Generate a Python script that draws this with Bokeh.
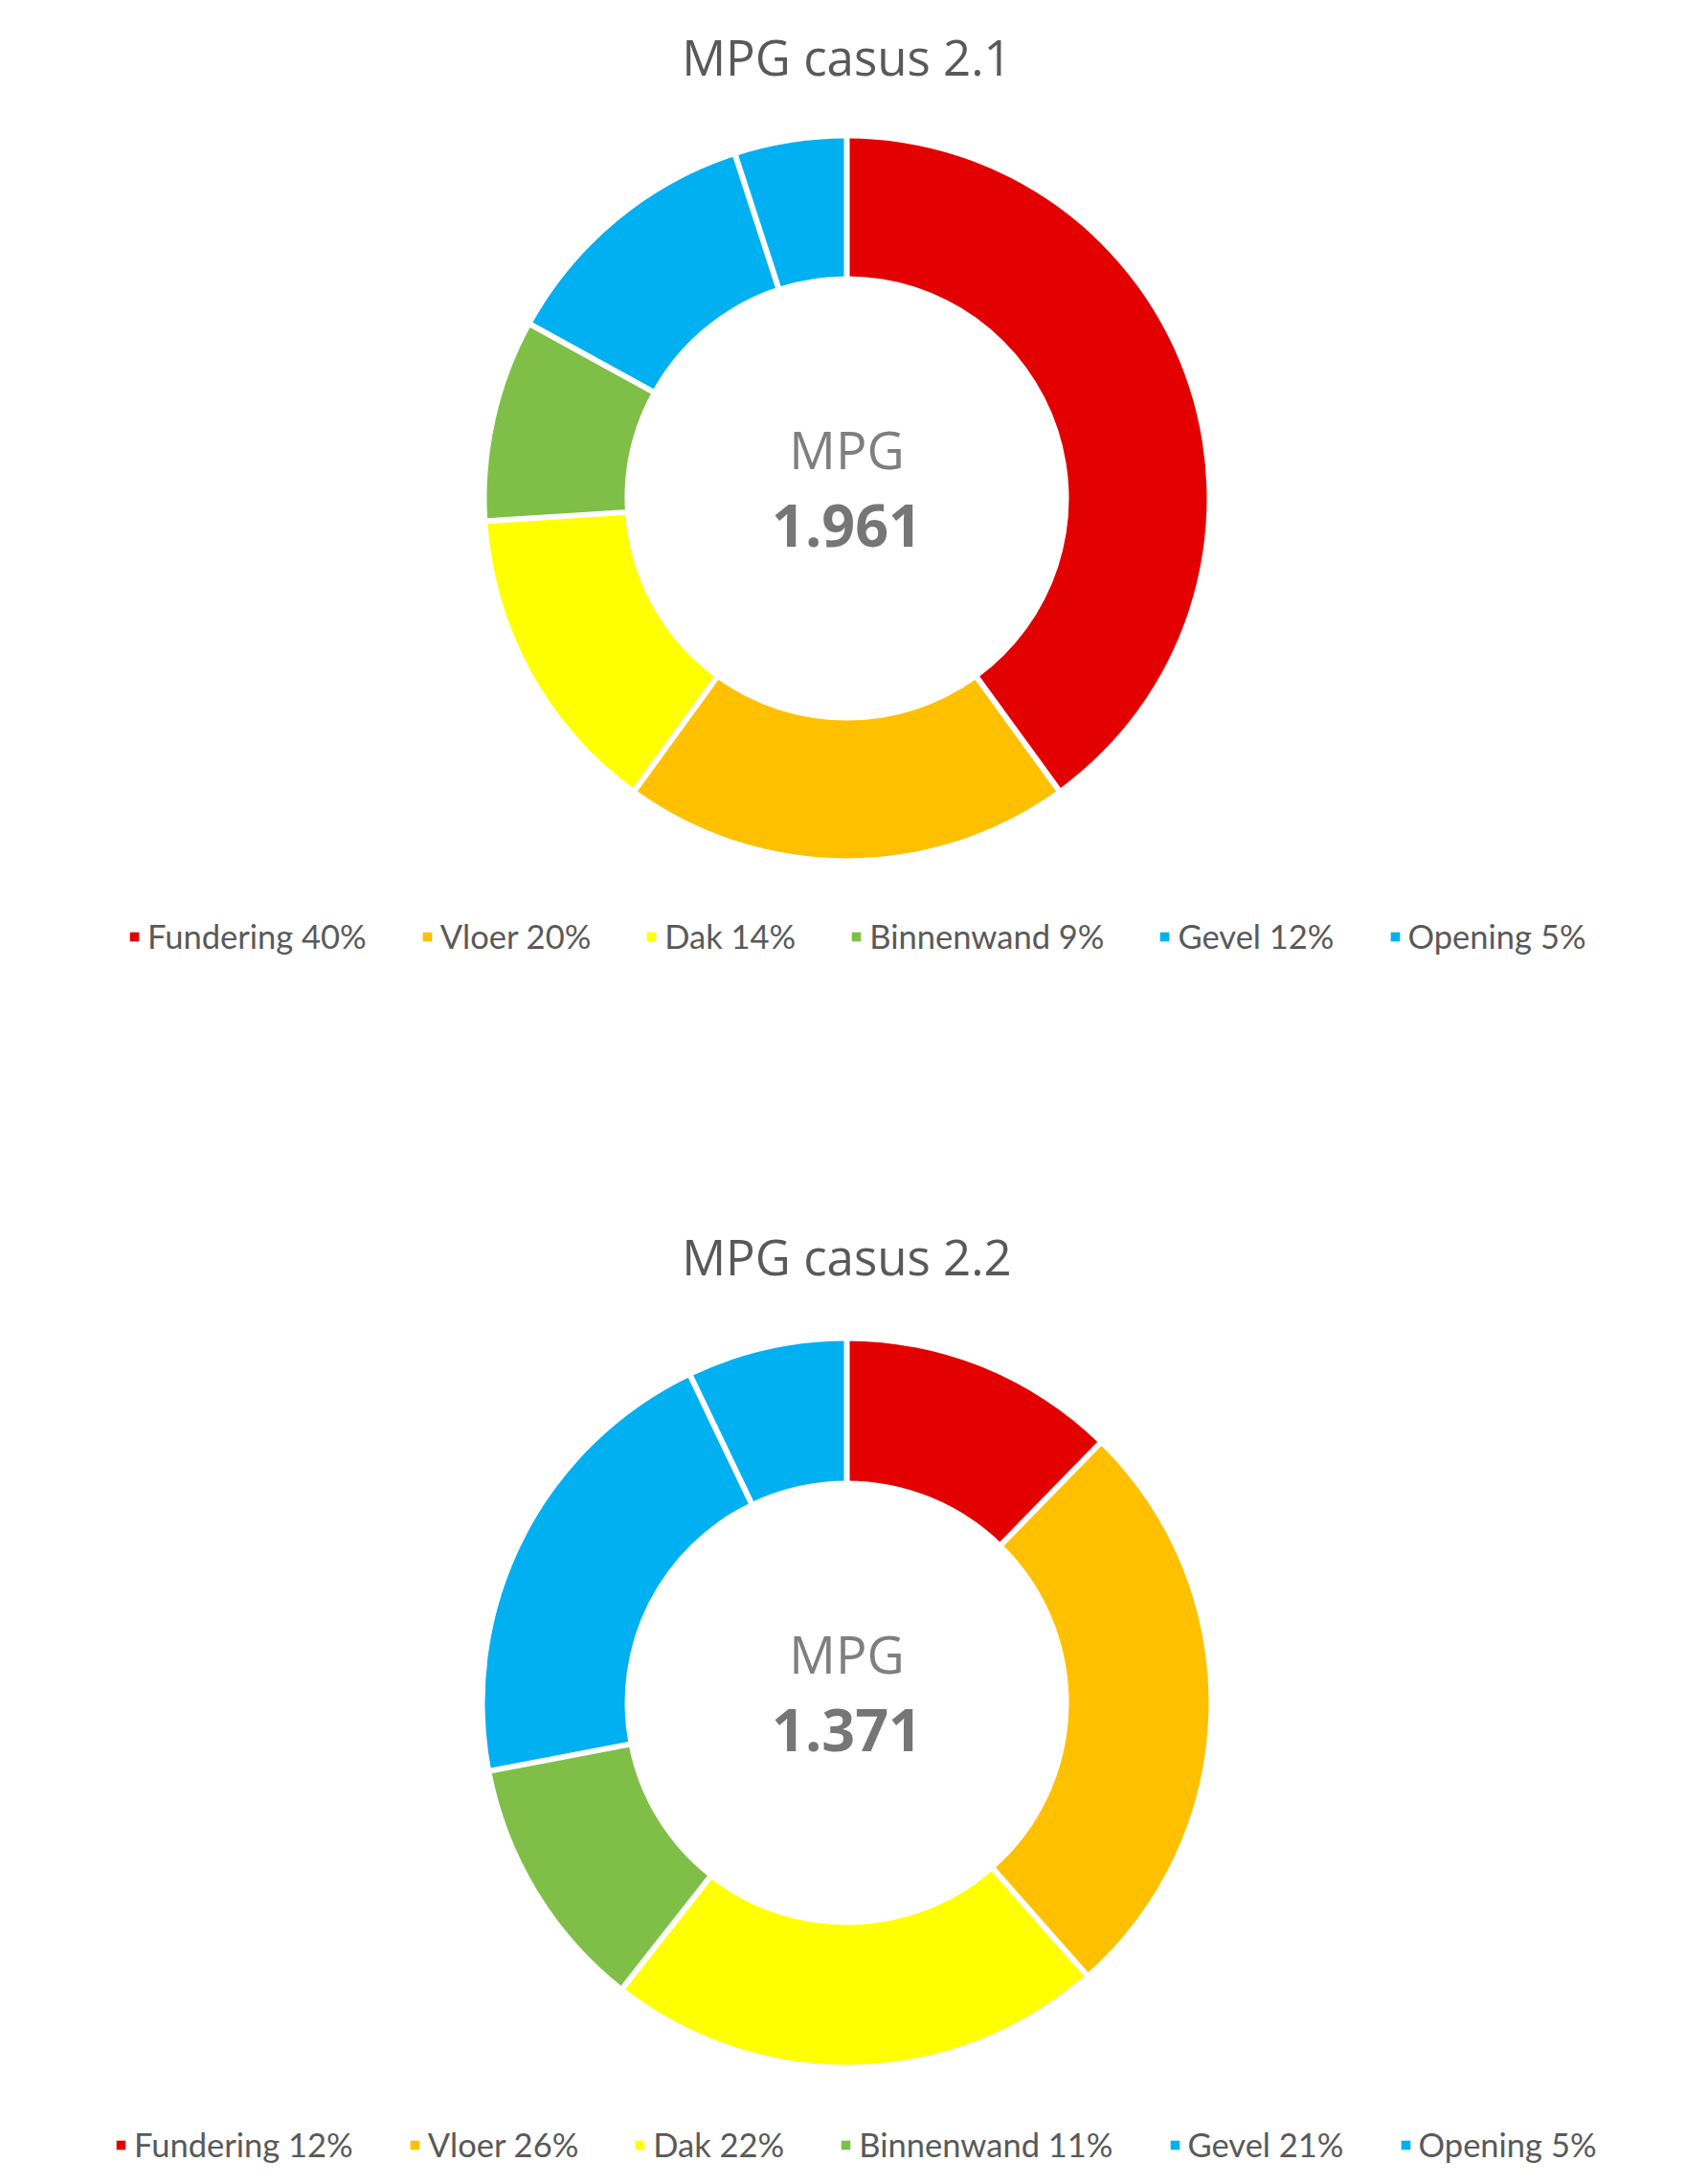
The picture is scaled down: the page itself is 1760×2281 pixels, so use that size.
import math
from bokeh.plotting import figure
from bokeh.models import Range1d, Label, Legend, LegendItem, ColumnDataSource
from bokeh.layouts import column
from bokeh.embed import file_html
from bokeh.resources import INLINE

# ---- data ----
categories = ["Fundering", "Vloer", "Dak", "Binnenwand", "Gevel", "Opening"]
colors = ["#E30000", "#FFC000", "#FFFF00", "#7FBF47", "#00B0F0", "#00B0F0"]

titles = ["MPG casus 2.1", "MPG casus 2.2"]
mpg_values = ["1.961", "1.371"]

# slice sizes
casus21_values = [40, 20, 14, 9, 12, 5]
casus22_values = [12.3, 26.2, 22.1, 11.4, 20.9, 7.1]
# percentages as printed in the legends
casus21_pct = [40, 20, 14, 9, 12, 5]
casus22_pct = [12, 26, 22, 11, 21, 5]

PAGE_W = 1744


def donut(title, mpg, values, pcts, height, cy_pix, r_out, r_in, title_y, legend_loc, spacing):
    # coordinate system: 1 unit = 1 px, donut centre at (0, 0)
    cx_pix = 884
    p = figure(width=PAGE_W, height=height, output_backend="svg", toolbar_location=None,
               x_range=Range1d(-cx_pix, PAGE_W - cx_pix),
               y_range=Range1d(cy_pix - height, cy_pix),
               min_border=0, background_fill_color="white", border_fill_color="white")
    p.axis.visible = False
    p.grid.visible = False
    p.outline_line_color = None

    total = sum(values)
    starts, ends = [], []
    cum = 0.0
    for v in values:
        starts.append(math.pi / 2 - 2 * math.pi * cum / total)
        cum += v
        ends.append(math.pi / 2 - 2 * math.pi * cum / total)

    src = ColumnDataSource(dict(x=[0] * len(values), y=[0] * len(values),
                                start=starts, end=ends, color=colors))
    r = p.annular_wedge(x="x", y="y", inner_radius=r_in, outer_radius=r_out,
                        start_angle="start", end_angle="end", direction="clock",
                        fill_color="color", line_color=None, source=src)

    # white separators between slices
    x0 = [(r_in - 3) * math.cos(a) for a in starts]
    y0 = [(r_in - 3) * math.sin(a) for a in starts]
    x1 = [(r_out + 3) * math.cos(a) for a in starts]
    y1 = [(r_out + 3) * math.sin(a) for a in starts]
    p.segment(x0=x0, y0=y0, x1=x1, y1=y1, line_color="white", line_width=6)

    p.add_layout(Label(x=0, y=title_y, text=title, text_align="center", text_baseline="middle",
                       text_font="Open Sans", text_font_size="51px", text_color="#595959"))
    p.add_layout(Label(x=0, y=52, text="MPG", text_align="center", text_baseline="middle",
                       text_font="Open Sans", text_font_size="54px", text_color="#7F7F7F"))
    p.add_layout(Label(x=0, y=-28, text=mpg, text_align="center", text_baseline="middle",
                       text_font="Open Sans", text_font_size="61px", text_font_style="bold",
                       text_color="#767676"))

    items = [LegendItem(label=f"{c} {pc}%", renderers=[r], index=i)
             for i, (c, pc) in enumerate(zip(categories, pcts))]
    leg = Legend(items=items, location=legend_loc, orientation="horizontal",
                 label_text_font="Lato", label_text_font_size="34.5px", label_text_color="#595959",
                 glyph_width=12, glyph_height=12, label_standoff=8, spacing=spacing,
                 padding=0, margin=0, border_line_color=None, background_fill_alpha=0)
    p.add_layout(leg)
    return p


p1 = donut(titles[0], mpg_values[0], casus21_values, casus21_pct,
           height=1140, cy_pix=520, r_out=376, r_in=232, title_y=462,
           legend_loc=(134, 142), spacing=57)
p2 = donut(titles[1], mpg_values[1], casus22_values, casus22_pct,
           height=1125, cy_pix=638, r_out=378, r_in=232, title_y=467,
           legend_loc=(120, 5), spacing=58)

page = column(p1, p2, spacing=0)
open("out.html", "w").write(file_html(page, INLINE))
